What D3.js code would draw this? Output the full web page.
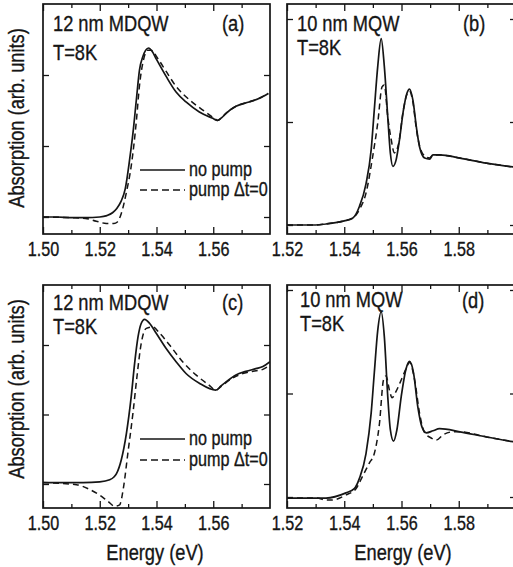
<!DOCTYPE html>
<html>
<head>
<meta charset="utf-8">
<script src="https://cdn.jsdelivr.net/npm/d3@7"></script>
<style>
  html, body { margin: 0; padding: 0; background: #fff; }
  svg { display: block; }
  text { font-family: "Liberation Sans", Arial, Helvetica, sans-serif; fill: #151515; stroke: #151515; stroke-width: 0.35; }
</style>
</head>
<body>
<svg id="chart" width="513" height="567"></svg>
<script>
// ---------------- DATA ----------------
// Panel (a): 12 nm MDQW
const energyA_solid = [1.500,1.505,1.510,1.515,1.520,1.5225,1.5245,1.5260,1.5275,1.5290,1.5305,1.5317,1.5329,1.534,1.5352,1.5362,1.5372,1.5385,1.540,1.5434,1.5469,1.5504,1.5551,1.5598,1.5615,1.5630,1.5645,1.568,1.5726,1.5761,1.5794];
const absA_solid    = [0,0,-0.01,-0.01,0.0,0.02,0.06,0.12,0.22,0.40,0.80,1.18,1.65,2.07,2.26,2.35,2.38,2.33,2.22,1.98,1.76,1.62,1.48,1.39,1.36,1.40,1.46,1.56,1.62,1.67,1.74];
const energyA_dash  = [1.500,1.510,1.515,1.5188,1.5223,1.5250,1.5262,1.5276,1.5294,1.5311,1.5329,1.534,1.5354,1.5369,1.5381,1.5405,1.5434,1.5469,1.5516,1.5562,1.5604,1.5615,1.5630,1.5645,1.568,1.5726,1.5761,1.5794];
const absA_dash     = [0,-0.01,-0.02,-0.06,-0.09,-0.09,-0.07,0.05,0.35,0.72,1.35,1.85,2.21,2.35,2.35,2.23,2.05,1.84,1.65,1.51,1.39,1.36,1.40,1.46,1.56,1.62,1.67,1.74];

// Panel (b): 10 nm MQW
const energyB_solid = [1.520,1.530,1.5336,1.540,1.5429,1.5453,1.5476,1.5494,1.5505,1.5517,1.5529,1.554,1.5552,1.5561,1.557,1.5581,1.5593,1.5607,1.5619,1.5628,1.564,1.5652,1.5663,1.5681,1.5698,1.571,1.5733,1.5804,1.5897,1.600];
const absB_solid    = [0,0.0,0.01,0.04,0.065,0.18,0.40,0.73,1.12,1.54,1.81,1.54,1.05,0.70,0.57,0.63,0.83,1.12,1.28,1.32,1.21,0.95,0.76,0.65,0.64,0.68,0.68,0.65,0.60,0.56];
const energyB_dash  = [1.520,1.530,1.5336,1.540,1.5429,1.5453,1.5476,1.5499,1.5517,1.5532,1.5540,1.5552,1.5564,1.5575,1.559,1.5605,1.5619,1.5628,1.564,1.5652,1.5663,1.5681,1.5698,1.571,1.5733,1.5804,1.5897,1.600];
const absB_dash     = [0,0,0.01,0.04,0.065,0.15,0.31,0.66,0.99,1.34,1.36,1.05,0.83,0.70,0.79,1.09,1.27,1.30,1.19,0.93,0.77,0.67,0.65,0.68,0.68,0.65,0.60,0.56];

// Panel (c): 12 nm MDQW
const energyC_solid = [1.500,1.510,1.5141,1.520,1.5235,1.5250,1.5259,1.5276,1.5294,1.5311,1.5323,1.5335,1.5346,1.5358,1.5376,1.5399,1.5434,1.5469,1.5504,1.5551,1.5609,1.5627,1.5645,1.568,1.5715,1.575,1.5775,1.5800];
const absC_solid    = [0.02,0.02,0.02,0.03,0.06,0.10,0.15,0.35,0.73,1.26,1.74,2.12,2.31,2.37,2.31,2.17,1.95,1.76,1.59,1.45,1.35,1.41,1.47,1.57,1.62,1.66,1.69,1.76];
const energyC_dash  = [1.500,1.5118,1.5165,1.520,1.5229,1.5253,1.527,1.5284,1.5299,1.5317,1.5331,1.5346,1.5364,1.5387,1.5411,1.5446,1.5492,1.5539,1.5586,1.5609,1.5627,1.5645,1.568,1.5715,1.575,1.5775,1.580];
const absC_dash     = [0.02,-0.01,-0.08,-0.16,-0.25,-0.32,-0.30,-0.04,0.44,1.02,1.54,2.02,2.24,2.26,2.17,2.0,1.76,1.57,1.42,1.35,1.40,1.46,1.55,1.60,1.63,1.65,1.71];

// Panel (d): 10 nm MQW
const energyD_solid = [1.520,1.530,1.5336,1.5406,1.5435,1.5453,1.5476,1.5494,1.5505,1.5517,1.5529,1.554,1.5552,1.5561,1.5572,1.5584,1.5599,1.5616,1.5628,1.5642,1.5657,1.5671,1.5687,1.571,1.5733,1.5804,1.5897,1.600];
const absD_solid    = [-0.01,-0.01,-0.01,0.04,0.08,0.18,0.42,0.81,1.20,1.61,1.79,1.55,0.97,0.65,0.54,0.65,0.97,1.24,1.31,1.20,0.87,0.68,0.62,0.64,0.66,0.63,0.58,0.53];
const energyD_dash  = [1.520,1.530,1.534,1.5355,1.5406,1.5441,1.5464,1.5488,1.5505,1.5523,1.5537,1.5546,1.5558,1.5567,1.5581,1.5599,1.5616,1.5628,1.5646,1.5663,1.5681,1.5704,1.5722,1.5745,1.5781,1.5804,1.5897,1.600];
const absD_dash     = [-0.01,-0.01,-0.03,-0.03,0.02,0.08,0.20,0.33,0.42,0.71,1.13,1.17,1.03,0.96,1.02,1.13,1.24,1.30,1.13,0.81,0.62,0.57,0.55,0.60,0.63,0.63,0.58,0.53];

// Tick labels / values
const ticksLeftMajor  = [1.50, 1.52, 1.54, 1.56];
const ticksLeftMinor  = [1.51, 1.53, 1.55, 1.57];
const ticksRightMajor = [1.52, 1.54, 1.56, 1.58];
const ticksRightMinor = [1.53, 1.55, 1.57, 1.59];
const yTickValues = [0, 1, 2];

const panelLabels = ["(a)", "(b)", "(c)", "(d)"];
const sampleNames = ["12 nm MDQW", "10 nm MQW", "12 nm MDQW", "10 nm MQW"];
const tempLabel = "T=8K";
const legendLabels = ["no pump", "pump \u0394t=0"];
const xTitle = "Energy (eV)";
const yTitle = "Absorption (arb. units)";

// ---------------- LAYOUT ----------------
const SX = 0.83; // horizontal squeeze to mimic the narrow sans of the original
const FF = "'Liberation Sans', Arial, Helvetica, sans-serif";

const panels = [
  { id: "a", xd: [1.50, 1.58], xr: [43, 270], yr: [217, 75], y0: 4, y1: 234,
    solid: [energyA_solid, absA_solid], dash: [energyA_dash, absA_dash],
    major: ticksLeftMajor, minor: ticksLeftMinor,
    name: { x: 53, y: 31 }, temp: { x: 53, y: 60 }, lab: { x: 222, y: 31 },
    legend: { x0: 140, x1: 185, ys: 170, yd: 190, tx: 189, tys: 176, tyd: 196 },
    ytitle: { x: 24, y: 118 } },
  { id: "b", xd: [1.52, 1.60], xr: [287, 516], yr: [225, 19], y0: 4, y1: 234,
    solid: [energyB_solid, absB_solid], dash: [energyB_dash, absB_dash],
    major: ticksRightMajor, minor: ticksRightMinor,
    name: { x: 297, y: 31 }, temp: { x: 297, y: 55 }, lab: { x: 463, y: 31 } },
  { id: "c", xd: [1.50, 1.58], xr: [43, 270], yr: [484, 345], y0: 285, y1: 508,
    solid: [energyC_solid, absC_solid], dash: [energyC_dash, absC_dash],
    major: ticksLeftMajor, minor: ticksLeftMinor,
    name: { x: 53, y: 310 }, temp: { x: 53, y: 334 }, lab: { x: 222, y: 310 },
    legend: { x0: 140, x1: 185, ys: 439, yd: 460, tx: 189, tys: 445, tyd: 466 },
    ytitle: { x: 24, y: 389 }, xtitle: { x: 155, y: 560 } },
  { id: "d", xd: [1.52, 1.60], xr: [287, 516], yr: [497, 290], y0: 285, y1: 508,
    solid: [energyD_solid, absD_solid], dash: [energyD_dash, absD_dash],
    major: ticksRightMajor, minor: ticksRightMinor,
    name: { x: 300, y: 307 }, temp: { x: 300, y: 331 }, lab: { x: 462, y: 308 },
    xtitle: { x: 403, y: 560 } }
];

const svg = d3.select("#chart");
const INK = "#151515";

function squeezedText(g, x, y, str, size, anchor, rotate) {
  return g.append("text")
    .attr("transform", `translate(${x},${y})` + (rotate ? ` rotate(${rotate})` : "") + ` scale(${SX},1)`)
    .attr("font-size", size)
    .attr("text-anchor", anchor || "start")
    .text(str);
}

panels.forEach((p, i) => {
  const x = d3.scaleLinear().domain(p.xd).range(p.xr);
  const y = d3.scaleLinear().domain([0, 2]).range(p.yr);
  const g = svg.append("g");

  const cid = "clip-" + p.id;
  svg.append("defs").append("clipPath").attr("id", cid)
    .append("rect").attr("x", p.xr[0]).attr("y", p.y0)
    .attr("width", p.xr[1] - p.xr[0]).attr("height", p.y1 - p.y0);

  function styleAxis(sel) {
    sel.select(".domain").remove();
    sel.selectAll(".tick line").attr("stroke", INK).attr("stroke-width", 1.3);
  }
  const bottomMajor = d3.axisBottom(x).tickValues(p.major).tickSize(-7).tickPadding(8).tickFormat(d3.format(".2f"));
  g.append("g").attr("transform", `translate(0,${p.y1})`).call(bottomMajor).call(styleAxis)
    .call(s => s.selectAll("text").attr("font-size", 19.5).attr("font-family", FF)
      .attr("fill", INK).attr("transform", `scale(${SX},1)`));
  g.append("g").attr("transform", `translate(0,${p.y1})`)
    .call(d3.axisBottom(x).tickValues(p.minor).tickSize(-4).tickFormat("")).call(styleAxis);
  g.append("g").attr("transform", `translate(0,${p.y0})`)
    .call(d3.axisTop(x).tickValues(p.major).tickSize(-7).tickFormat("")).call(styleAxis);
  g.append("g").attr("transform", `translate(0,${p.y0})`)
    .call(d3.axisTop(x).tickValues(p.minor).tickSize(-4).tickFormat("")).call(styleAxis);
  g.append("g").attr("transform", `translate(${p.xr[0]},0)`)
    .call(d3.axisLeft(y).tickValues(yTickValues).tickSize(-6).tickFormat("")).call(styleAxis);
  g.append("g").attr("transform", `translate(${p.xr[1]},0)`)
    .call(d3.axisRight(y).tickValues(yTickValues).tickSize(-6).tickFormat("")).call(styleAxis);

  g.append("rect").attr("x", p.xr[0]).attr("y", p.y0)
    .attr("width", p.xr[1] - p.xr[0]).attr("height", p.y1 - p.y0)
    .attr("fill", "none").attr("stroke", INK).attr("stroke-width", 1.7);

  const line = d3.line().x(d => x(d[0])).y(d => y(d[1])).curve(d3.curveMonotoneX);
  const toPts = s => s[0].map((e, k) => [e, s[1][k]]);
  const cg = g.append("g").attr("clip-path", `url(#${cid})`);
  cg.append("path").datum(toPts(p.dash)).attr("d", line)
    .attr("fill", "none").attr("stroke", INK).attr("stroke-width", 1.5)
    .attr("stroke-dasharray", "6,4");
  cg.append("path").datum(toPts(p.solid)).attr("d", line)
    .attr("fill", "none").attr("stroke", INK).attr("stroke-width", 1.7);

  squeezedText(g, p.name.x, p.name.y, sampleNames[i], 22);
  squeezedText(g, p.temp.x, p.temp.y, tempLabel, 22);
  squeezedText(g, p.lab.x, p.lab.y, panelLabels[i], 22);

  if (p.legend) {
    const L = p.legend;
    g.append("line").attr("x1", L.x0).attr("x2", L.x1).attr("y1", L.ys).attr("y2", L.ys)
      .attr("stroke", INK).attr("stroke-width", 1.4);
    g.append("line").attr("x1", L.x0).attr("x2", L.x1).attr("y1", L.yd).attr("y2", L.yd)
      .attr("stroke", INK).attr("stroke-width", 1.4).attr("stroke-dasharray", "7,4");
    squeezedText(g, L.tx, L.tys, legendLabels[0], 19.5);
    squeezedText(g, L.tx, L.tyd, legendLabels[1], 19.5);
  }
  if (p.ytitle) squeezedText(g, p.ytitle.x, p.ytitle.y, yTitle, 22, "middle", -90);
  if (p.xtitle) squeezedText(g, p.xtitle.x, p.xtitle.y, xTitle, 22, "middle");
});
</script>
</body>
</html>
